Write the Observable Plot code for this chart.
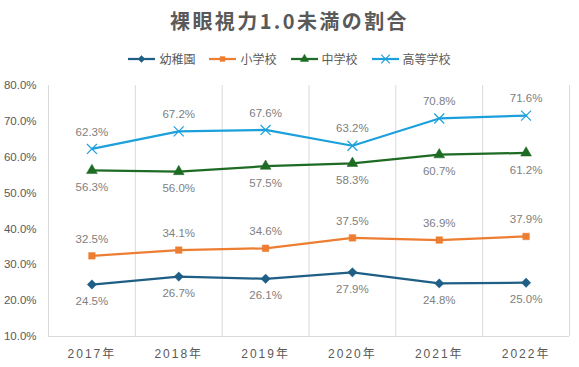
<!DOCTYPE html>
<html><head><meta charset="utf-8">
<script src="https://cdn.jsdelivr.net/npm/d3@7"></script>
<script src="https://cdn.jsdelivr.net/npm/@observablehq/plot@0.6"></script>
<style>
body{margin:0;background:#fff;font-family:"Liberation Sans","Noto Sans CJK JP",sans-serif;}
#wrap{width:579px;}
#title{height:42px;line-height:42px;text-align:center;font-size:20px;font-weight:bold;color:#595959;letter-spacing:2.4px;font-family:"Noto Sans CJK JP","Liberation Sans",sans-serif;}
#legend{height:33px;display:flex;justify-content:center;align-items:center;font-size:12px;color:#595959;font-family:"Noto Sans CJK JP",sans-serif;padding-bottom:0px;box-sizing:border-box;}
.item{display:flex;align-items:center;margin:0 7px;}
.item svg{margin-right:3px;}
</style></head>
<body><div id="wrap"><div id="title">裸眼視力1.0未満の割合</div><div id="legend"></div><div id="chart"></div></div>
<script>
const years = [2017, 2018, 2019, 2020, 2021, 2022];
const seriesNames = ["幼稚園", "小学校", "中学校", "高等学校"];
const kindergarten = [24.5, 26.7, 26.1, 27.9, 24.8, 25.0];
const elementary = [32.5, 34.1, 34.6, 37.5, 36.9, 37.9];
const juniorHigh = [56.3, 56.0, 57.5, 58.3, 60.7, 61.2];
const highSchool = [62.3, 67.2, 67.6, 63.2, 70.8, 71.6];
const yTicks = [10, 20, 30, 40, 50, 60, 70, 80];

const colors = ["#1f5f85", "#ed7d31", "#1e6b24", "#1ca0dc"];
const symbols = ["diamond2", "square", "triangle", "times"];
const symSize = [4.2, 3.7, 4, 4.6];
const labelDy = [17, -17, 17, -17];
const valuesList = [kindergarten, elementary, juniorHigh, highSchool];

const data = [];
seriesNames.forEach((s, i) => valuesList[i].forEach((v, j) => data.push({series: s, year: years[j], value: v, idx: i})));
const boundaries = years.map(y => y - 0.5).concat([years[years.length - 1] + 0.5]);

const marks = [
  Plot.ruleX(boundaries, {stroke: "#d9d9d9", strokeWidth: 1, y1: 10, y2: 80}),
  Plot.ruleY([10], {stroke: "#d9d9d9", strokeWidth: 1})
];
seriesNames.forEach((s, i) => {
  const d = data.filter(e => e.series === s);
  marks.push(Plot.lineY(d, {x: "year", y: "value", stroke: colors[i], strokeWidth: 2.25}));
  const isTimes = symbols[i] === "times";
  marks.push(Plot.dot(d, {x: "year", y: "value", symbol: symbols[i], r: symSize[i],
    fill: isTimes ? "none" : colors[i], stroke: colors[i], strokeWidth: isTimes ? 1.2 : 0.5}));
  marks.push(Plot.text(d, {x: "year", y: "value", text: e => e.value.toFixed(1) + "%", dy: labelDy[i],
    fill: "#808080", fontSize: 11.5}));
});

const chart = Plot.plot({
  width: 579, height: 292,
  marginLeft: 48, marginRight: 10, marginTop: 10, marginBottom: 31,
  style: {fontFamily: "'Liberation Sans','Noto Sans CJK JP',sans-serif", background: "#fff"},
  x: {domain: [years[0] - 0.5, years[years.length - 1] + 0.5], ticks: years, tickFormat: d => d + "年", tickSize: 0, label: null, tickPadding: 12},
  y: {domain: [10, 80], ticks: yTicks, tickFormat: d => d.toFixed(1) + "%", tickSize: 0, label: null, tickPadding: 12},
  marks: [
    ...marks,
    Plot.axisX({ticks: years, tickFormat: d => d + "年", tickSize: 0, tickPadding: 13, fontSize: 12, fill: "#595959", label: null}),
    Plot.axisY({ticks: yTicks, tickFormat: d => d.toFixed(1) + "%", tickSize: 0, tickPadding: 12, fontSize: 11.5, fill: "#595959", label: null})
  ]
});
d3.select(chart).selectAll("[aria-label='x-axis tick label'] text").style("letter-spacing", "2px");
document.getElementById("chart").appendChild(chart);

const legend = d3.select("#legend");
seriesNames.forEach((s, i) => {
  const it = legend.append("div").attr("class", "item");
  const svg = it.append("svg").attr("width", 28).attr("height", 12);
  svg.append("line").attr("x1", 0).attr("x2", 27).attr("y1", 6).attr("y2", 6).attr("stroke", colors[i]).attr("stroke-width", 2.25);
  const symMap = {diamond2: d3.symbolDiamond2, square: d3.symbolSquare2, triangle: d3.symbolTriangle, times: d3.symbolTimes};
  const isTimes = symbols[i] === "times";
  svg.append("path").attr("transform", "translate(13.5,6)")
    .attr("d", d3.symbol(symMap[symbols[i]], isTimes ? 50 : 30)())
    .attr("fill", isTimes ? "none" : colors[i]).attr("stroke", colors[i]).attr("stroke-width", isTimes ? 1.2 : 0.5);
  it.append("span").text(s);
});
</script></body></html>
